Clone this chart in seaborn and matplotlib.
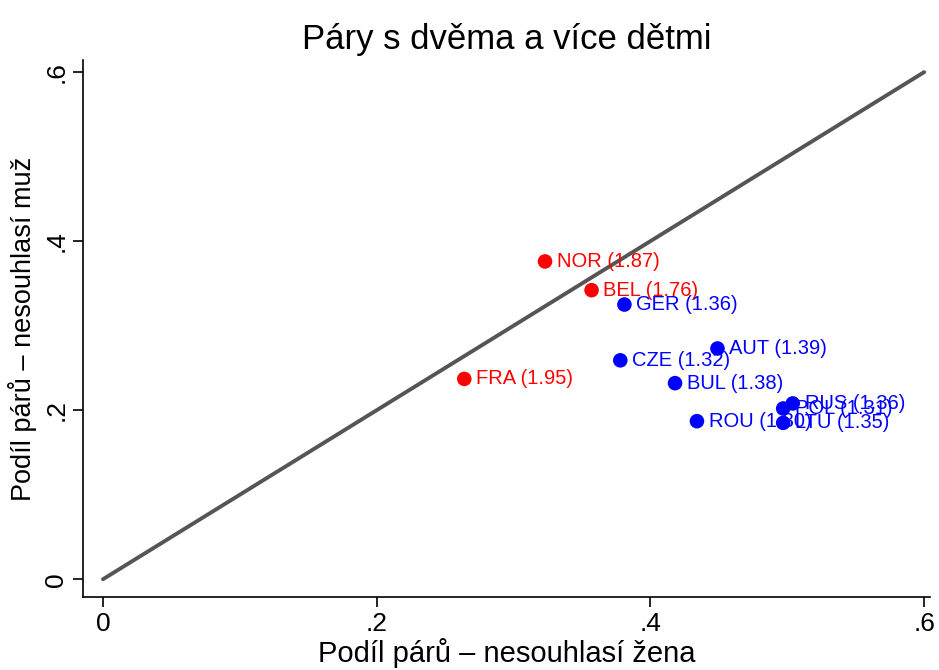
import pandas as pd
import matplotlib.pyplot as plt
import seaborn as sns

# data
countries = ['NOR', 'BEL', 'GER', 'FRA', 'CZE', 'AUT', 'BUL', 'ROU', 'POL', 'RUS', 'LTU']
tfr = ['1.87', '1.76', '1.36', '1.95', '1.32', '1.39', '1.38', '1.30', '1.31', '1.36', '1.35']
share_woman = [0.323, 0.357, 0.381, 0.264, 0.378, 0.449, 0.418, 0.434, 0.497, 0.504, 0.497]
share_man = [0.376, 0.342, 0.325, 0.237, 0.259, 0.273, 0.232, 0.187, 0.202, 0.208, 0.185]
group = ['high', 'high', 'low', 'high', 'low', 'low', 'low', 'low', 'low', 'low', 'low']

df = pd.DataFrame({'country': countries, 'tfr': tfr, 'x': share_woman,
                   'y': share_man, 'group': group})
colors = {'high': '#ff0000', 'low': '#0000ff'}

sns.set_style("white")
plt.rcParams['font.family'] = ['Liberation Sans', 'DejaVu Sans']
plt.rcParams['text.color'] = 'black'
plt.rcParams['axes.labelcolor'] = 'black'

fig = plt.figure(figsize=(9.39, 6.70), dpi=100)
ax = fig.add_axes([0.0884, 0.109, 0.9016, 0.801])

ax.plot([0, 0.6], [0, 0.6], color='#555555', lw=2.8, zorder=1)
sns.scatterplot(data=df, x='x', y='y', hue='group', palette=colors, s=110,
                edgecolor='none', legend=False, ax=ax, zorder=3)

for _, r in df.iterrows():
    ax.annotate(f"{r['country']} ({r['tfr']})", (r['x'], r['y']),
                xytext=(8.5, 0), textcoords='offset points', va='center',
                ha='left', fontsize=14.5, color=colors[r['group']], zorder=4)

ax.set_xlim(-0.0146, 0.604)
ax.set_ylim(-0.021, 0.614)
ax.set_xticks([0, 0.2, 0.4, 0.6])
ax.set_xticklabels(['0', '.2', '.4', '.6'])
ax.set_yticks([0, 0.2, 0.4, 0.6])
ax.set_yticklabels(['0', '.2', '.4', '.6'], rotation=90, va='center')
ax.tick_params(axis='both', labelsize=19, length=7, width=1.2, direction='out',
               colors='black', bottom=True, left=True)
for side in ['top', 'right']:
    ax.spines[side].set_visible(False)
for side in ['left', 'bottom']:
    ax.spines[side].set_color('black')
    ax.spines[side].set_linewidth(1.2)

ax.set_xlabel('Podíl párů – nesouhlasí žena', fontsize=21, labelpad=2)
ax.set_ylabel('Podíl párů – nesouhlasí muž', fontsize=19.5, labelpad=5)
ax.set_title('Páry s dvěma a více dětmi', fontsize=25, pad=8, color='black')

plt.savefig('out.png', dpi=100)
